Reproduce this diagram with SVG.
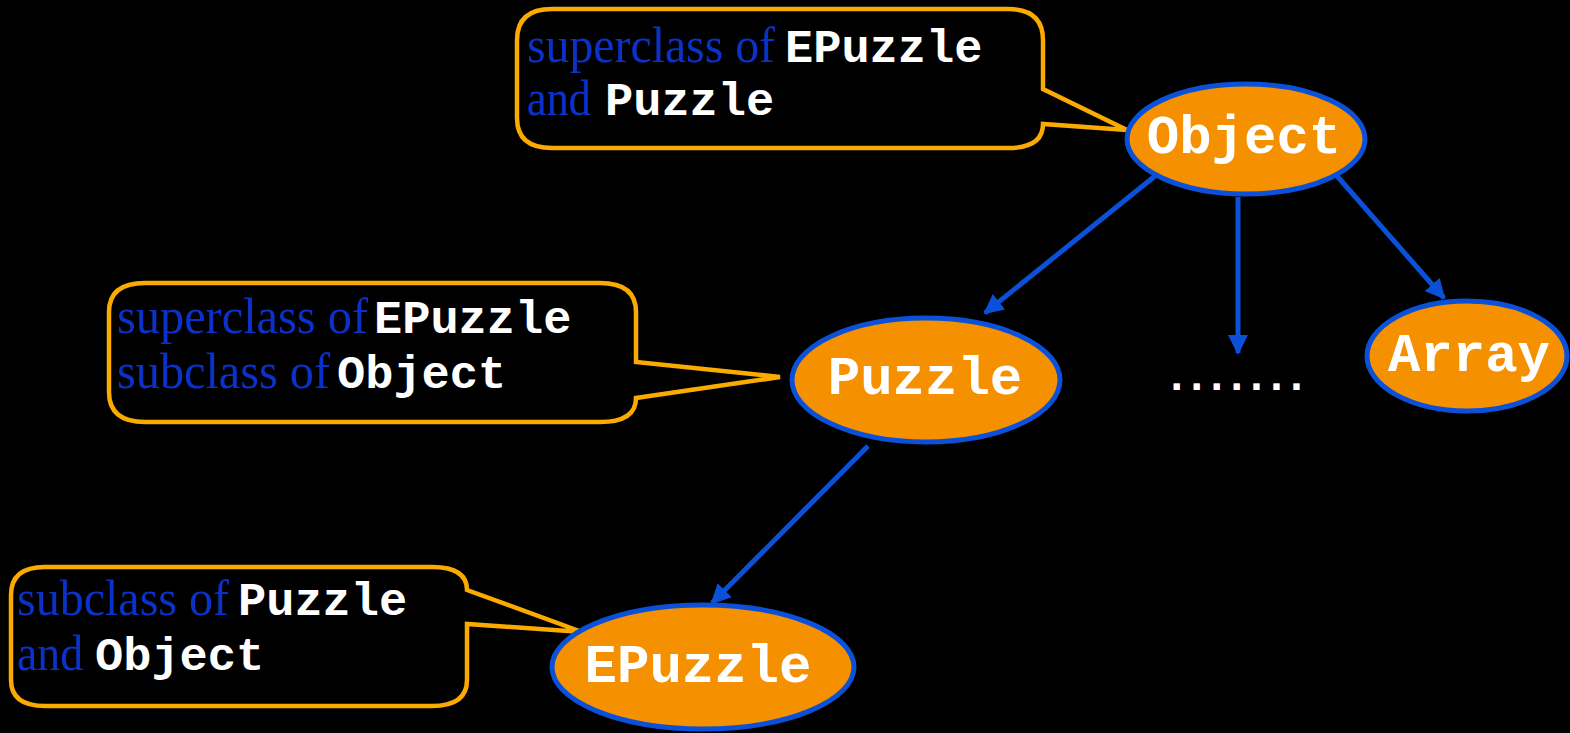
<svg xmlns="http://www.w3.org/2000/svg" width="1570" height="733" viewBox="0 0 1570 733">
<defs>
<style>
.node{fill:#f59100;stroke:#0a50d8;stroke-width:5}
.nt{font-family:"Liberation Mono","Courier New",monospace;font-weight:bold;font-size:54px;fill:#ffffff;text-anchor:middle}
.call{fill:#000000;stroke:#fbaa00;stroke-width:4.5;stroke-linejoin:miter}
.bt{font-family:"Liberation Serif","Times New Roman",serif;font-size:51px;fill:#0a32c8}
.wt{font-family:"Liberation Mono","Courier New",monospace;font-weight:bold;font-size:47px;fill:#ffffff}
.edge{stroke:#0a50d8;stroke-width:5;fill:none}
</style>
<marker id="ah" viewBox="0 0 10 10" refX="9" refY="5" markerWidth="4" markerHeight="4" orient="auto" markerUnits="strokeWidth">
<path d="M0,0 L10,5 L0,10 Z" fill="#0a50d8"/>
</marker>
</defs>
<rect x="0" y="0" width="1570" height="733" fill="#000000"/>

<g id="connectors">
<line class="edge" x1="1155" y1="176" x2="985" y2="313" marker-end="url(#ah)"/>
<line class="edge" x1="1238" y1="197" x2="1238" y2="353" marker-end="url(#ah)"/>
<line class="edge" x1="1337" y1="176" x2="1444" y2="298" marker-end="url(#ah)"/>
<line class="edge" x1="868" y1="446" x2="712" y2="603" marker-end="url(#ah)"/>
</g>

<g id="callout-object">
<path class="call" d="M552,9 H1008 Q1043,9 1043,40 V89 L1127,130 L1043,124 Q1043,148 1008,148 H552 Q517,148 517,118 V40 Q517,9 552,9 Z"/>
<text class="bt" x="527" y="62" textLength="248" lengthAdjust="spacingAndGlyphs">superclass of</text>
<text class="wt" x="785" y="62">EPuzzle</text>
<text class="bt" x="527" y="115" textLength="64" lengthAdjust="spacingAndGlyphs">and</text>
<text class="wt" x="605" y="115">Puzzle</text>
</g>

<g id="callout-puzzle">
<path class="call" d="M145,283 H600 Q636,283 636,312 V362 L780,377 L636,398 Q636,422 600,422 H145 Q109,422 109,392 V312 Q109,283 145,283 Z"/>
<text class="bt" x="117" y="333" textLength="251" lengthAdjust="spacingAndGlyphs">superclass of</text>
<text class="wt" x="374" y="333">EPuzzle</text>
<text class="bt" x="117" y="388" textLength="213" lengthAdjust="spacingAndGlyphs">subclass of</text>
<text class="wt" x="337" y="388">Object</text>
</g>

<g id="callout-epuzzle">
<path class="call" d="M45,567 H432 Q467,567 467,590 L582,632 L467,624 V680 Q467,706 432,706 H45 Q11,706 11,680 V595 Q11,567 45,567 Z"/>
<text class="bt" x="17" y="615" textLength="212" lengthAdjust="spacingAndGlyphs">subclass of</text>
<text class="wt" x="238" y="615">Puzzle</text>
<text class="bt" x="17" y="670" textLength="66" lengthAdjust="spacingAndGlyphs">and</text>
<text class="wt" x="95" y="670">Object</text>
</g>

<g id="node-object">
<ellipse class="node" cx="1246" cy="139" rx="119" ry="55"/>
<text class="nt" x="1244" y="153">Object</text>
</g>

<g id="node-array">
<ellipse class="node" cx="1467" cy="356" rx="100" ry="55"/>
<text class="nt" x="1469" y="371">Array</text>
</g>

<g id="node-puzzle">
<ellipse class="node" cx="926" cy="380" rx="134" ry="62"/>
<text class="nt" x="925" y="394">Puzzle</text>
</g>

<g id="node-epuzzle">
<ellipse class="node" cx="703" cy="667" rx="151" ry="62"/>
<text class="nt" x="698" y="682">EPuzzle</text>
</g>

<g id="dots">
<text x="1163.6" y="390" textLength="146" lengthAdjust="spacing" style="font-family:'Liberation Mono','Courier New',monospace;font-weight:bold;font-size:44px;fill:#ffffff">.......</text>
</g>
</svg>
